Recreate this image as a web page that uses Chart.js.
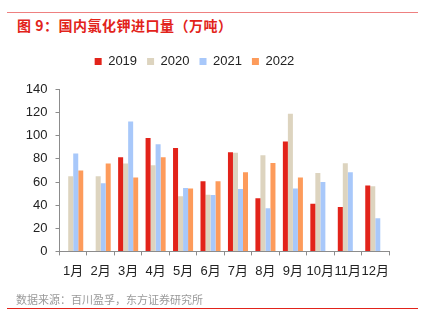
<!DOCTYPE html>
<html>
<head>
<meta charset="utf-8">
<script src="https://cdn.jsdelivr.net/npm/chart.js@4"></script>
<style>
    body { margin: 0; background: #fff; }
    #wrap { position: relative; width: 428px; height: 325px; overflow: hidden; }
    .rule { position: absolute; left: 7px; width: 411px; height: 1px; }
    #title {
        position: absolute; left: 17px; top: 15px;
        font: bold 14px "Noto Sans CJK SC", sans-serif;
        letter-spacing: 0.5px;
        color: #e2231a; white-space: nowrap;
    }
    #source {
        position: absolute; left: 16px; top: 291px;
        font: 11px "Noto Sans CJK SC", sans-serif;
        color: #9a9a9a; white-space: nowrap;
    }
    #chartBox { position: absolute; left: 0; top: 0; width: 428px; height: 325px; }
</style>
</head>
<body>
<div id="wrap">
    <div class="rule" style="top:12px; background:#ee8080;"></div>
    <div id="title">图 9：国内氯化钾进口量（万吨）</div>
    <div id="chartBox"><canvas id="importChart"></canvas></div>
    <div id="source">数据来源：百川盈孚，东方证券研究所</div>
    <div class="rule" style="top:308px; background:#e2231a;"></div>
</div>

<script>
/* =========================
   DATA
========================= */

const months = ["1月", "2月", "3月", "4月", "5月", "6月", "7月", "8月", "9月", "10月", "11月", "12月"];

const imports2019 = [null, null, 81.5, 98, 89.5, 60.7, 85.8, 46, 95, 41.3, 38.4, 57];
const imports2020 = [65, 65, 76, 74.5, 47.7, 49, 85.2, 83.2, 119, 67.9, 76.2, 56.4];
const imports2021 = [84.6, 59, 112.4, 92.7, 54.9, 48.7, 54, 37.3, 54.3, 60.1, 68.5, 28.6];
const imports2022 = [70, 76, 63.8, 81.5, 54.3, 60.7, 68.5, 76.5, 64, null, null, null];

const yTicks = { min: 0, max: 140, step: 20 };

/* =========================
   CHART
========================= */

const fontFamily = '"Liberation Sans", "Noto Sans CJK SC", sans-serif';
const axisGray = "#8c8c8c";

function series(label, data, color) {
    return {
        label: label,
        data: data,
        backgroundColor: color,
        borderWidth: 0,
        categoryPercentage: 0.73,
        barPercentage: 1
    };
}

// fixed legend height so the plot area lands where it should
const legendHeight = {
    id: "legendHeight",
    beforeInit(chart) {
        const fit = chart.legend.fit;
        chart.legend.fit = function () {
            fit.bind(chart.legend)();
            this.height = 44.5;
        };
    }
};

new Chart(document.getElementById("importChart"), {
    type: "bar",
    data: {
        labels: months,
        datasets: [
            series("2019", imports2019, "#e2231a"),
            series("2020", imports2020, "#ddd4bf"),
            series("2021", imports2021, "#a8c8fa"),
            series("2022", imports2022, "#fd9b5b")
        ]
    },
    options: {
        responsive: true,
        maintainAspectRatio: false,
        animation: false,
        layout: { padding: { top: 45, left: 0, right: 39, bottom: 38 } },
        plugins: {
            legend: {
                position: "top",
                labels: {
                    boxWidth: 7,
                    boxHeight: 7,
                    padding: 10,
                    color: "#222",
                    font: { family: fontFamily, size: 13 }
                }
            },
            tooltip: { enabled: false }
        },
        scales: {
            x: {
                grid: {
                    display: true,
                    drawOnChartArea: false,
                    tickLength: 4,
                    color: axisGray
                },
                border: { color: axisGray, width: 1 },
                ticks: {
                    color: "#222",
                    padding: 8,
                    maxRotation: 0,
                    autoSkip: false,
                    font: { family: fontFamily, size: 13 }
                }
            },
            y: {
                min: yTicks.min,
                max: yTicks.max,
                grid: {
                    display: true,
                    drawOnChartArea: false,
                    tickLength: 4,
                    color: axisGray
                },
                border: { color: axisGray, width: 1 },
                ticks: {
                    stepSize: yTicks.step,
                    color: "#222",
                    padding: 8,
                    font: { family: fontFamily, size: 13 }
                },
                afterFit(scale) { scale.width = 59.5; }
            }
        }
    },
    plugins: [legendHeight]
});
</script>
</body>
</html>
